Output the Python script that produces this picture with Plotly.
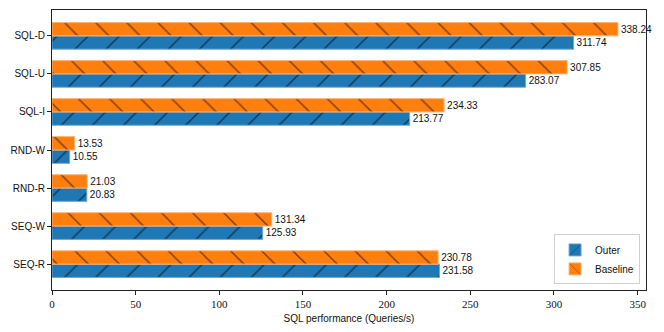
import plotly.graph_objects as go

categories = ['SEQ-R', 'SEQ-W', 'RND-R', 'RND-W', 'SQL-I', 'SQL-U', 'SQL-D']
outer = [231.58, 125.93, 20.83, 10.55, 213.77, 283.07, 311.74]
baseline = [230.78, 131.34, 21.03, 13.53, 234.33, 307.85, 338.24]
x_ticks = [0, 50, 100, 150, 200, 250, 300, 350]

fig = go.Figure()

fig.add_trace(go.Bar(
    y=categories, x=outer, orientation='h', name='Outer',
    marker={'color': '#1f77b4',
            'line': {'color': '#6fa8d6', 'width': 1},
            'pattern': {'shape': '/', 'fgcolor': 'black', 'size': 22, 'solidity': 0.07}},
    text=[f'{v:.2f}' for v in outer], textposition='outside',
    textfont={'family': 'Liberation Sans', 'size': 10, 'color': '#111'},
    cliponaxis=False,
))
fig.add_trace(go.Bar(
    y=categories, x=baseline, orientation='h', name='Baseline',
    marker={'color': '#ff7f0e',
            'line': {'color': '#ffb26e', 'width': 1},
            'pattern': {'shape': '\\', 'fgcolor': 'black', 'size': 22, 'solidity': 0.07}},
    text=[f'{v:.2f}' for v in baseline], textposition='outside',
    textfont={'family': 'Liberation Sans', 'size': 10, 'color': '#111'},
    cliponaxis=False,
))

# page body has an 8px margin, so the figure is shrunk to fit the window
fig.update_layout({
    'width': 648,
    'height': 316,
    'margin': {'t': 2, 'b': 34, 'l': 44, 'r': 10},
    'plot_bgcolor': 'white',
    'paper_bgcolor': 'white',
    'barmode': 'group',
    'bargap': 0.3,
    'bargroupgap': 0,
    'font': {'family': 'Liberation Sans', 'size': 10, 'color': '#111'},
    'legend': {
        'x': 0.99, 'y': 0.02, 'xanchor': 'right', 'yanchor': 'bottom',
        'bordercolor': '#d0d0d0', 'borderwidth': 1, 'bgcolor': 'white',
        'font': {'size': 10},
        'itemwidth': 30,
        'tracegroupgap': 0,
        'traceorder': 'normal',
    },
})
fig.update_xaxes(
    range=[0, 355], tickvals=x_ticks, showgrid=False, zeroline=False,
    showline=True, linecolor='#222', linewidth=1, mirror=True,
    ticks='outside', ticklen=4, tickcolor='#222', automargin=False,
    tickfont={'family': 'Liberation Serif', 'size': 11},
    title={'text': 'SQL performance (Queries/s)', 'font': {'size': 10}, 'standoff': 6},
)
fig.update_yaxes(
    range=[-0.68, 6.68], showgrid=False, zeroline=False,
    showline=True, linecolor='#222', linewidth=1, mirror=True,
    ticks='outside', ticklen=4, tickcolor='#222', automargin=False,
    tickfont={'size': 10},
)

fig.write_html('out.html')
